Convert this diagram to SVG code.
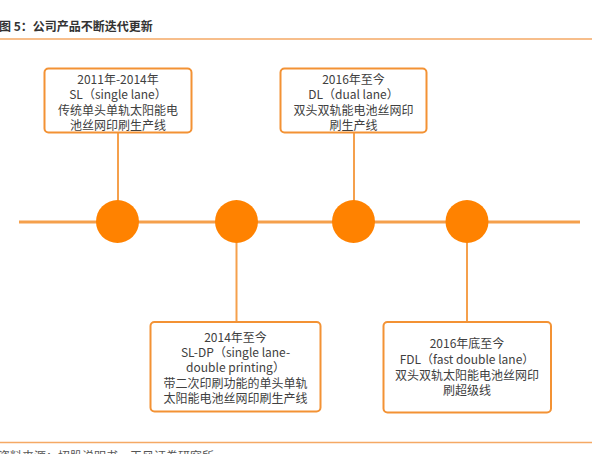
<svg xmlns="http://www.w3.org/2000/svg" width="592" height="454" viewBox="0 0 592 454">
<style>
text{font-family:"Noto Sans CJK SC","Liberation Sans",sans-serif;font-size:12px;fill:#404040;text-anchor:middle}
.box{fill:#fff;stroke:#F39234;stroke-width:2}
.conn{stroke:#F5A04C;fill:none}
.dot{fill:#FF8200}
.rule{stroke:#F5A964;stroke-width:1.5}
</style>
<rect width="592" height="454" fill="#fff"/>
<text x="-1" y="31" style="text-anchor:start;font-weight:bold;fill:#333">图 5：公司产品不断迭代更新</text>
<line class="rule" x1="0" y1="39" x2="592" y2="39"/>
<line class="rule" x1="0" y1="442.5" x2="592" y2="442.5"/>
<text x="-2" y="461" style="text-anchor:start;fill:#555">资料来源：招股说明书，天风证券研究所</text>
<g id="connectors">
<line class="conn" x1="19" y1="222" x2="580" y2="222" stroke-width="3"/>
<line class="conn" x1="118" y1="133" x2="118" y2="205" stroke-width="2"/>
<line class="conn" x1="354" y1="133" x2="354" y2="205" stroke-width="2"/>
<line class="conn" x1="236.5" y1="238" x2="236.5" y2="322" stroke-width="2"/>
<line class="conn" x1="467" y1="238" x2="467" y2="322" stroke-width="2"/>
</g>
<g id="dot1"><circle class="dot" cx="117.5" cy="221.5" r="21.5"/></g>
<g id="dot2"><circle class="dot" cx="236.5" cy="221.5" r="21.5"/></g>
<g id="dot3"><circle class="dot" cx="353.5" cy="221.5" r="21.5"/></g>
<g id="dot4"><circle class="dot" cx="467" cy="221.5" r="21.5"/></g>
<g id="node-sl">
<rect class="box" x="44.5" y="68.5" width="147" height="64" rx="4"/>
<text x="118" y="84">2011年-2014年</text>
<text x="118" y="99">SL（single lane）</text>
<text x="118" y="115">传统单头单轨太阳能电</text>
<text x="118" y="130">池丝网印刷生产线</text>
</g>
<g id="node-dl">
<rect class="box" x="280.5" y="68.5" width="146" height="64" rx="4"/>
<text x="353.5" y="84">2016年至今</text>
<text x="353.5" y="99">DL（dual lane）</text>
<text x="353.5" y="115">双头双轨能电池丝网印</text>
<text x="353.5" y="130">刷生产线</text>
</g>
<g id="node-sldp">
<rect class="box" x="150.5" y="322" width="170" height="89.5" rx="4"/>
<text x="235.5" y="342">2014年至今</text>
<text x="235.5" y="357">SL-DP（single lane-</text>
<text x="235.5" y="372">double printing）</text>
<text x="235.5" y="387.5">带二次印刷功能的单头单轨</text>
<text x="235.5" y="402.5">太阳能电池丝网印刷生产线</text>
</g>
<g id="node-fdl">
<rect class="box" x="383.5" y="322" width="167.5" height="90.5" rx="4"/>
<text x="467" y="348">2016年底至今</text>
<text x="467" y="364">FDL（fast double lane）</text>
<text x="467" y="380">双头双轨太阳能电池丝网印</text>
<text x="467" y="395">刷超级线</text>
</g>
</svg>
